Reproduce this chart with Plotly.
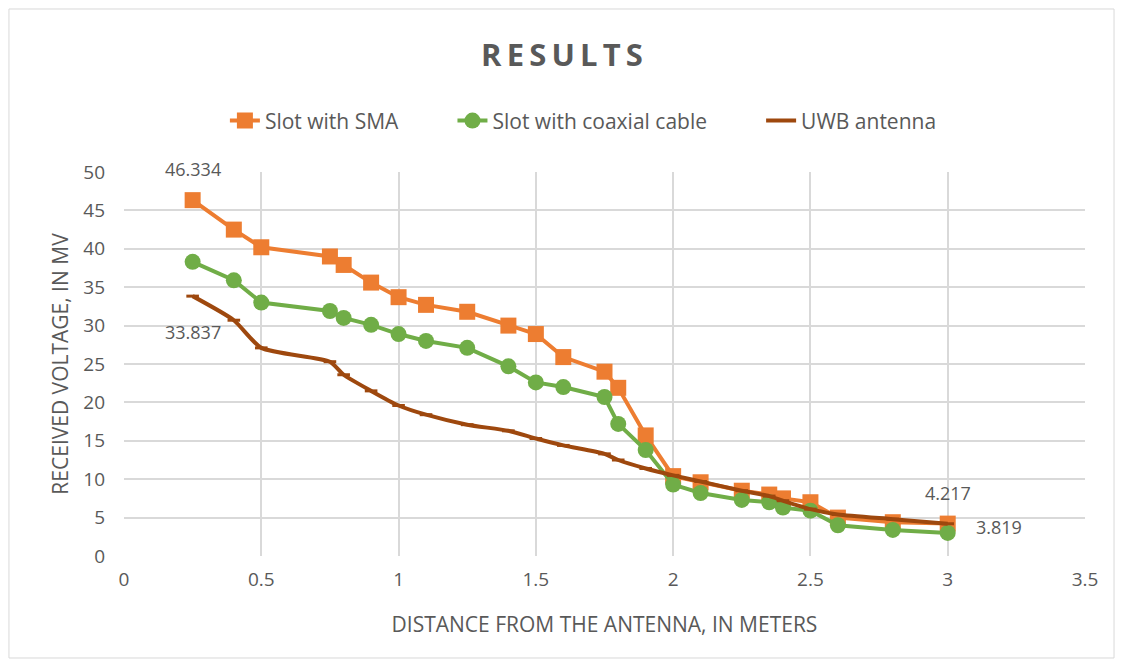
import plotly.graph_objects as go

distance = [0.25, 0.4, 0.5, 0.75, 0.8, 0.9, 1.0, 1.1, 1.25, 1.4, 1.5, 1.6, 1.75, 1.8, 1.9,
            2.0, 2.1, 2.25, 2.35, 2.4, 2.5, 2.6, 2.8, 3.0]
sma = [46.334, 42.5, 40.2, 39.0, 37.9, 35.6, 33.7, 32.7, 31.8, 30.0, 28.9, 25.9, 24.0, 21.9, 15.7,
       10.4, 9.6, 8.5, 8.0, 7.5, 7.0, 5.0, 4.4, 4.217]
coax = [38.3, 35.9, 33.0, 31.9, 31.0, 30.1, 28.9, 28.0, 27.1, 24.7, 22.6, 22.0, 20.7, 17.2, 13.8,
        9.3, 8.2, 7.3, 7.0, 6.3, 5.9, 4.0, 3.4, 3.0]
uwb = [33.837, 30.7, 27.1, 25.3, 23.6, 21.5, 19.6, 18.4, 17.1, 16.3, 15.3, 14.4, 13.3, 12.5, 11.4,
       10.5, 9.7, 8.5, 7.8, 7.2, 6.1, 5.4, 4.8, 4.2]

labels = [("46.334", 0.25, 46.334, "above"), ("33.837", 0.25, 33.837, "below"),
          ("4.217", 3.0, 4.217, "above"), ("3.819", 3.0, 3.819, "right")]

grey = "#595959"
pad = "\u00a0" * 9
fig = go.Figure()
fig.add_trace(go.Scatter(x=distance, y=sma, name="Slot with SMA" + pad, mode="lines+markers",
                         line=dict(color="#ED7D31", width=4),
                         marker=dict(symbol="square", size=16, color="#ED7D31")))
fig.add_trace(go.Scatter(x=distance, y=coax, name="Slot with coaxial cable" + pad, mode="lines+markers",
                         line=dict(color="#70AD47", width=4),
                         marker=dict(symbol="circle", size=16, color="#70AD47")))
fig.add_trace(go.Scatter(x=distance, y=uwb, name="UWB antenna", mode="lines",
                         line=dict(color="#9E480E", width=4, shape="spline", smoothing=0.6)))
fig.add_trace(go.Scatter(x=distance, y=uwb, mode="markers", showlegend=False, hoverinfo="skip",
                         marker=dict(symbol="line-ew", size=9, color="#9E480E",
                                     line=dict(color="#9E480E", width=3))))

ann = []
for text, x, y, pos in labels:
    if pos == "above":
        ann.append(dict(x=x, y=y, text=text, showarrow=False, xanchor="center", yanchor="bottom", yshift=17))
    elif pos == "below":
        ann.append(dict(x=x, y=y, text=text, showarrow=False, xanchor="center", yanchor="top", yshift=-22))
    else:
        ann.append(dict(x=x, y=y, text=text, showarrow=False, xanchor="left", yanchor="middle", xshift=26))
for a in ann:
    a["font"] = dict(size=18, color=grey)

title_text = "\u2009".join("RESULTS")

fig.update_layout(
    width=1108, height=652,
    paper_bgcolor="white", plot_bgcolor="white",
    font=dict(family="Open Sans, Liberation Sans, sans-serif", color=grey, size=18),
    title=dict(text="<b>" + title_text + "</b>", x=0.5, xanchor="center", y=0.928, yanchor="middle",
               font=dict(size=31, color=grey)),
    margin=dict(l=116, r=31, t=164, b=104),
    legend=dict(orientation="h", x=0.105, xanchor="left", y=1.133, yanchor="middle",
                font=dict(size=21, color=grey), traceorder="normal"),
    annotations=ann,
    xaxis=dict(range=[0, 3.5], dtick=0.5, tick0=0, showgrid=True, gridcolor="#D9D9D9", gridwidth=1.5,
               zeroline=False, showline=False, ticks="", tickfont=dict(size=19, color=grey),
               ticklabelstandoff=10,
               title=dict(text="DISTANCE FROM THE ANTENNA, IN METERS", font=dict(size=21, color=grey), standoff=26)),
    yaxis=dict(range=[0, 50], dtick=5, showgrid=True, gridcolor="#D9D9D9", gridwidth=1.5,
               zeroline=False, showline=False, ticks="", tickfont=dict(size=19, color=grey),
               ticklabelstandoff=18,
               title=dict(text="RECEIVED VOLTAGE, IN MV", font=dict(size=21, color=grey), standoff=8)),
    shapes=[dict(type="rect", xref="paper", yref="paper", x0=-0.1197, x1=1.0302, y0=-0.2656, y1=1.4245,
                 line=dict(color="#D9D9D9", width=1), fillcolor="rgba(0,0,0,0)", layer="below")],
)
fig.write_html("out.html")
